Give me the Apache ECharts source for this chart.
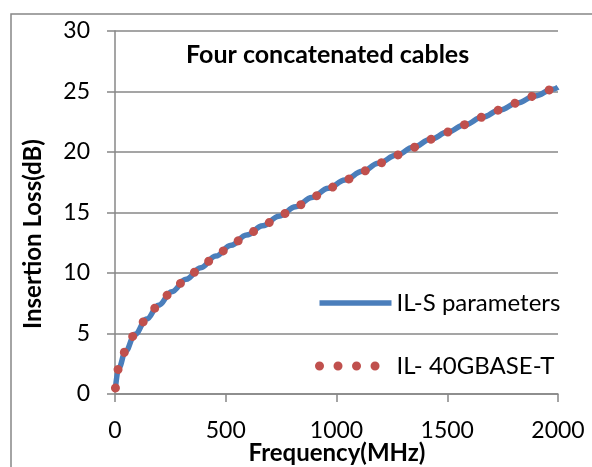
<!DOCTYPE html>
<html><head><meta charset="utf-8">
<script src="https://cdn.jsdelivr.net/npm/echarts@6/dist/echarts.min.js"></script>
<style>html,body{margin:0;padding:0;background:#fff}#c{width:592px;height:467px}</style>
</head><body><div id="c"></div>
<script>
const title = 'Four concatenated cables';
const xName = 'Frequency(MHz)';
const yName = 'Insertion Loss(dB)';
const seriesNames = ['IL-S parameters', 'IL- 40GBASE-T'];
const freq = [2, 17, 48, 90, 143, 196, 256, 321, 387, 455, 524, 594, 667, 740, 816, 889, 963, 1038, 1117, 1189, 1272, 1347, 1425, 1502, 1580, 1658, 1738, 1816, 1896, 1976, 2000];
const ilSParams = [0.5, 2.15, 3.55, 4.93, 6.2, 7.33, 8.45, 9.48, 10.44, 11.4, 12.29, 13.14, 13.9, 14.7, 15.48, 16.25, 17.0, 17.69, 18.4, 19.07, 19.75, 20.39, 21.05, 21.65, 22.26, 22.87, 23.47, 24.05, 24.63, 25.18, 25.35];
const il40G = [0.5, 2.15, 3.55, 4.93, 6.2, 7.33, 8.45, 9.48, 10.44, 11.4, 12.29, 13.14, 13.9, 14.7, 15.48, 16.25, 17.0, 17.69, 18.4, 19.07, 19.75, 20.39, 21.05, 21.65, 22.26, 22.87, 23.47, 24.05, 24.63, 25.18, 25.35];

const FONT = 'Lato';
const gray = '#878787';
const chart = echarts.init(document.getElementById('c'), null, {renderer: 'canvas'});
chart.setOption({
  animation: false,
  backgroundColor: '#fff',
  textStyle: {fontFamily: FONT},
  grid: {left: 115, right: 34, top: 31, bottom: 73},
  xAxis: {
    type: 'value', min: 0, max: 2000, interval: 500,
    axisLine: {show: true, lineStyle: {color: gray, width: 1.5}},
    axisTick: {show: true, length: 8, lineStyle: {color: gray, width: 1.5}},
    axisLabel: {color: '#000', fontSize: 23, fontFamily: FONT, margin: 25, formatter: v => String(v)},
    splitLine: {show: false}
  },
  yAxis: {
    type: 'value', min: 0, max: 30, interval: 5,
    axisLine: {show: true, lineStyle: {color: gray, width: 1.5}},
    axisTick: {show: true, length: 8, lineStyle: {color: gray, width: 1.5}},
    axisLabel: {color: '#000', fontSize: 23, fontFamily: FONT, margin: 25, formatter: v => String(v)},
    splitLine: {show: true, lineStyle: {color: gray, width: 1.5}}
  },
  legend: {
    orient: 'vertical', left: 315, top: 291, padding: 0, itemWidth: 72, itemHeight: 30, itemGap: 39,
    textStyle: {fontSize: 24, color: '#000', fontFamily: FONT},
    itemStyle: {opacity: 0},
    data: [
      {name: seriesNames[0], lineStyle: {width: 5.5}},
      {name: seriesNames[1], lineStyle: {width: 9}}
    ]
  },
  graphic: [
    {type: 'rect', shape: {x: 11, y: 14, width: 700, height: 600}, style: {fill: 'none', stroke: gray, lineWidth: 1.5}, silent: true},
    {type: 'text', left: 186, top: 42, style: {text: title, font: 'bold 25px ' + FONT, fill: '#000'}},
    {type: 'text', x: 337, y: 453, style: {text: xName, font: 'bold 24px ' + FONT, fill: '#000', align: 'center', verticalAlign: 'middle'}},
    {type: 'text', x: 33, y: 234, rotation: Math.PI / 2, style: {text: yName, font: 'bold 24px ' + FONT, fill: '#000', align: 'center', verticalAlign: 'middle'}}
  ],
  series: [
    {
      name: seriesNames[0], type: 'line', showSymbol: false, symbol: 'none',
      smooth: 0.4, smoothMonotone: 'x',
      data: freq.map((f, i) => [f, ilSParams[i]]),
      lineStyle: {color: '#4a7ebb', width: 5.5},
      itemStyle: {color: '#4a7ebb'}, z: 2
    },
    {
      name: seriesNames[1], type: 'line', showSymbol: false, symbol: 'none',
      smooth: 0.4, smoothMonotone: 'x',
      data: freq.map((f, i) => [f, il40G[i]]),
      lineStyle: {color: '#c0504d', width: 9, type: [0.01, 18.5], cap: 'round'},
      itemStyle: {color: '#c0504d'}, z: 3
    }
  ]
});
</script></body></html>
